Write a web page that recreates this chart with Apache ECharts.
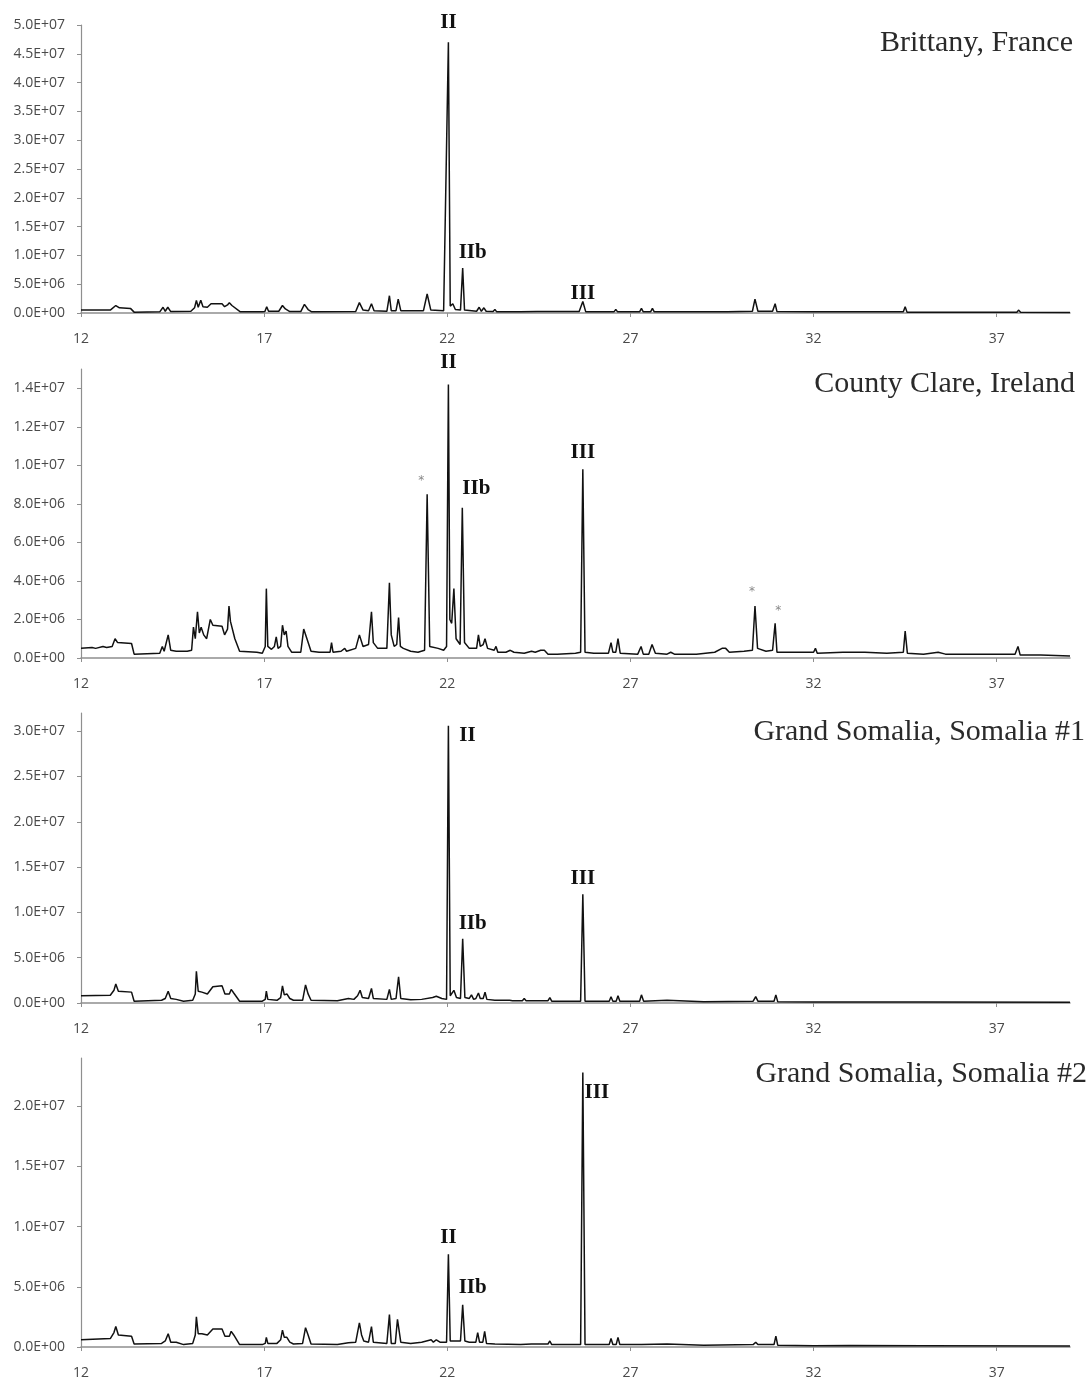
<!DOCTYPE html>
<html>
<head>
<meta charset="utf-8">
<script src="https://cdn.jsdelivr.net/npm/echarts@6/dist/echarts.min.js"></script>
<style>
  html, body { margin: 0; padding: 0; background: #fff; }
  #chart { width: 1091px; height: 1382px; }
</style>
</head>
<body>
<div id="chart"></div>
<script>
// Retention time (min) vs intensity (units of 1E+06 counts)
const xTicks = [12, 17, 22, 27, 32, 37];

const panelTitles = ['Brittany, France', 'County Clare, Ireland', 'Grand Somalia, Somalia #1', 'Grand Somalia, Somalia #2'];
const yMax = [50, 15, 32, 24];
const yTicks1 = [0, 5, 10, 15, 20, 25, 30, 35, 40, 45, 50];
const yTicks2 = [0, 2, 4, 6, 8, 10, 12, 14];
const yTicks3 = [0, 5, 10, 15, 20, 25, 30];
const yTicks4 = [0, 5, 10, 15, 20];

const brittany = [
  [12.0,0.5],[12.8,0.5],[12.95,1.3],[13.05,0.9],[13.35,0.8],[13.45,0.15],
  [14.15,0.2],[14.24,1.0],[14.3,0.3],[14.37,1.0],[14.45,0.25],
  [15.0,0.3],[15.1,0.9],[15.15,2.2],[15.2,1.0],[15.27,2.2],[15.33,1.1],[15.45,1.0],[15.55,1.6],[15.85,1.6],[15.92,1.1],[16.0,1.4],[16.05,1.8],[16.12,1.3],[16.35,0.2],
  [16.95,0.2],[17.02,0.25],[17.07,1.1],[17.12,0.3],[17.4,0.3],[17.5,1.3],[17.58,0.7],[17.7,0.25],
  [18.0,0.25],[18.1,1.5],[18.2,0.6],[18.3,0.2],
  [19.5,0.25],[19.6,1.8],[19.7,0.5],[19.85,0.4],[19.93,1.6],[20.0,0.4],[20.35,0.3],[20.42,3.0],[20.47,0.4],[20.6,0.4],[20.66,2.4],[20.73,0.4],
  [21.35,0.4],[21.45,3.3],[21.55,0.5],[21.9,0.4],[22.03,47.0],[22.08,1.2],[22.15,1.6],[22.22,0.6],[22.36,0.5],[22.42,7.8],[22.47,0.5],
  [22.8,0.3],[22.87,1.0],[22.93,0.3],[23.0,0.9],[23.06,0.3],[23.25,0.25],[23.3,0.6],[23.35,0.2],[24.0,0.2],[24.45,0.25],[24.5,0.35],[24.55,0.25],[25.6,0.25],[25.7,2.0],[25.78,0.2],
  [26.55,0.2],[26.6,0.6],[26.65,0.2],[27.25,0.2],[27.3,0.8],[27.35,0.2],[27.55,0.2],[27.6,0.8],[27.65,0.2],[28.05,0.2],[28.1,0.35],[28.15,0.2],
  [29.55,0.2],[29.6,0.4],[29.65,0.2],[30.33,0.3],[30.4,2.4],[30.48,0.3],[30.88,0.3],[30.95,1.6],[31.0,0.25],[32.0,0.2],
  [34.45,0.2],[34.5,1.1],[34.55,0.15],[36.35,0.15],[36.4,0.4],[36.45,0.15],[37.55,0.15],[37.6,0.5],[37.65,0.12],[39.0,0.1]
];

const clare = [
  [12.0,0.5],[12.3,0.55],[12.35,0.6],[12.4,0.5],[12.6,0.6],[12.7,0.55],[12.85,0.6],[12.93,1.0],[13.0,0.8],[13.38,0.75],[13.45,0.2],
  [14.15,0.25],[14.22,0.6],[14.27,0.35],[14.38,1.2],[14.45,0.4],[14.6,0.35],[14.9,0.35],[15.02,0.4],[15.07,1.6],[15.12,1.0],[15.18,2.4],[15.23,1.3],[15.28,1.6],[15.35,1.2],[15.43,1.0],[15.53,2.0],[15.6,1.7],[15.85,1.65],[15.92,1.2],[16.0,1.5],[16.04,2.7],[16.08,1.9],[16.13,2.0],[16.2,1.0],[16.33,0.35],
  [16.8,0.3],[16.95,0.25],[17.03,0.6],[17.06,3.6],[17.1,0.6],[17.2,0.45],[17.28,0.6],[17.33,1.1],[17.38,0.5],[17.45,0.6],[17.5,1.7],[17.55,1.2],[17.6,1.4],[17.65,0.6],[17.75,0.3],
  [18.0,0.3],[18.08,1.5],[18.15,1.1],[18.2,1.0],[18.28,0.35],[18.5,0.3],[18.8,0.3],[18.84,0.8],[18.88,0.3],[19.1,0.35],[19.2,0.5],[19.25,0.35],[19.5,0.5],[19.6,1.2],[19.7,0.6],[19.85,0.7],[19.93,2.4],[19.98,0.8],[20.1,0.5],[20.35,0.5],[20.42,3.9],[20.47,1.2],[20.55,0.6],[20.62,0.7],[20.67,2.1],[20.72,0.6],[20.8,0.5],[21.0,0.35],[21.2,0.3],
  [21.38,0.4],[21.45,8.5],[21.52,0.6],[21.75,0.5],[21.9,0.4],[21.98,0.6],[22.03,14.2],[22.07,2.0],[22.12,1.8],[22.18,3.6],[22.24,1.0],[22.35,0.7],[22.41,7.8],[22.47,0.8],[22.6,0.5],
  [22.8,0.5],[22.85,1.2],[22.9,0.6],[22.98,0.7],[23.03,1.0],[23.1,0.5],[23.28,0.4],[23.33,0.6],[23.38,0.3],[23.6,0.3],[23.72,0.4],[23.77,0.5],[23.82,0.3],[24.1,0.25],[24.3,0.35],[24.4,0.3],[24.55,0.4],[24.65,0.4],[24.75,0.2],[25.0,0.2],[25.5,0.25],
  [25.64,0.3],[25.7,9.8],[25.76,0.3],[26.0,0.25],[26.4,0.25],[26.47,0.8],[26.52,0.3],[26.6,0.3],[26.66,1.0],[26.72,0.25],[27.2,0.2],[27.29,0.6],[27.35,0.2],[27.5,0.2],[27.59,0.7],[27.68,0.25],[28.0,0.2],[28.1,0.3],[28.2,0.2],
  [28.8,0.2],[29.3,0.3],[29.5,0.5],[29.6,0.5],[29.7,0.3],[30.1,0.35],[30.33,0.4],[30.4,2.7],[30.47,0.5],[30.7,0.35],[30.88,0.4],[30.95,1.8],[31.0,0.3],[31.5,0.3],[32.0,0.3],[32.05,0.5],[32.1,0.25],[32.8,0.3],[33.4,0.3],[34.0,0.25],
  [34.45,0.3],[34.5,1.4],[34.56,0.25],[35.0,0.2],[35.4,0.3],[35.6,0.2],[36.7,0.2],[37.5,0.2],[37.58,0.6],[37.64,0.15],[38.2,0.15],[39.0,0.1]
];

const somalia1 = [
  [12.0,0.8],[12.8,0.85],[12.9,1.4],[12.95,2.1],[13.02,1.3],[13.38,1.2],[13.45,0.2],
  [14.2,0.3],[14.3,0.5],[14.38,1.3],[14.45,0.5],[14.6,0.4],[14.8,0.2],[15.05,0.3],[15.12,1.0],[15.15,3.5],[15.2,1.3],[15.3,1.2],[15.45,1.0],[15.6,1.8],[15.85,1.9],[15.93,1.0],[16.05,1.0],[16.1,1.5],[16.17,1.1],[16.33,0.2],
  [16.95,0.2],[17.03,0.4],[17.06,1.3],[17.1,0.4],[17.35,0.3],[17.45,0.6],[17.5,1.9],[17.55,0.9],[17.62,1.0],[17.7,0.5],[17.8,0.3],
  [18.05,0.3],[18.13,2.0],[18.2,1.0],[18.28,0.3],[19.0,0.25],[19.3,0.5],[19.45,0.4],[19.55,0.8],[19.62,1.4],[19.68,0.6],[19.85,0.5],[19.93,1.6],[19.98,0.5],[20.35,0.4],[20.42,1.5],[20.47,0.4],[20.6,0.5],[20.67,2.9],[20.73,0.5],
  [21.0,0.35],[21.3,0.4],[21.6,0.6],[21.7,0.75],[21.85,0.5],[21.98,0.4],[22.03,30.6],[22.08,0.8],[22.18,1.4],[22.25,0.6],[22.36,0.5],[22.42,7.1],[22.48,0.6],[22.6,0.5],[22.66,0.9],[22.72,0.4],[22.78,0.5],[22.85,1.1],[22.9,0.5],[22.98,0.5],[23.03,1.2],[23.08,0.4],
  [23.3,0.3],[23.7,0.3],[23.74,0.5],[23.78,0.25],[24.05,0.25],[24.1,0.5],[24.15,0.25],[24.75,0.25],[24.8,0.6],[24.85,0.2],[25.64,0.2],[25.7,12.0],[25.76,0.2],
  [26.42,0.2],[26.47,0.7],[26.52,0.2],[26.61,0.2],[26.66,0.8],[26.71,0.2],[27.25,0.2],[27.3,0.9],[27.36,0.2],[28.0,0.3],[29.0,0.15],
  [30.35,0.2],[30.42,0.7],[30.48,0.2],[30.92,0.2],[30.97,0.9],[31.02,0.15],[32.0,0.1],[33.0,0.12],[35.0,0.1],[39.0,0.08]
];

const somalia2 = [
  [12.0,0.6],[12.8,0.7],[12.9,1.2],[12.95,1.7],[13.02,1.0],[13.38,0.9],[13.45,0.25],
  [14.2,0.3],[14.3,0.5],[14.38,1.1],[14.45,0.4],[14.6,0.4],[14.8,0.2],[15.05,0.3],[15.12,1.0],[15.15,2.5],[15.2,1.1],[15.3,1.1],[15.45,1.0],[15.6,1.5],[15.85,1.5],[15.93,0.9],[16.05,0.9],[16.1,1.3],[16.17,1.0],[16.33,0.2],
  [16.95,0.2],[17.03,0.3],[17.06,0.8],[17.1,0.3],[17.35,0.3],[17.45,0.6],[17.5,1.4],[17.55,0.8],[17.62,0.8],[17.7,0.4],[17.8,0.25],
  [18.05,0.3],[18.13,1.6],[18.2,1.0],[18.28,0.25],[19.0,0.2],[19.3,0.35],[19.5,0.4],[19.6,2.0],[19.66,1.0],[19.72,0.5],[19.85,0.4],[19.93,1.7],[19.98,0.4],[20.35,0.3],[20.42,2.7],[20.47,0.3],[20.58,0.3],[20.64,2.3],[20.67,2.4],[20.73,0.4],
  [21.0,0.3],[21.3,0.4],[21.56,0.6],[21.62,0.4],[21.7,0.6],[21.8,0.4],[21.98,0.4],[22.03,7.7],[22.08,0.5],[22.2,0.5],[22.36,0.5],[22.42,3.5],[22.48,0.5],[22.6,0.4],[22.78,0.4],[22.83,1.2],[22.88,0.4],[22.97,0.4],[23.02,1.3],[23.07,0.3],
  [23.3,0.25],[24.0,0.2],[24.3,0.25],[24.75,0.25],[24.8,0.5],[24.85,0.2],[25.64,0.2],[25.7,22.8],[25.76,0.2],
  [26.42,0.2],[26.47,0.7],[26.52,0.2],[26.61,0.2],[26.66,0.8],[26.71,0.2],[27.3,0.2],[28.0,0.25],[29.0,0.15],
  [30.35,0.2],[30.42,0.4],[30.48,0.2],[30.92,0.2],[30.97,0.9],[31.02,0.15],[32.0,0.1],[33.0,0.12],[35.0,0.1],[39.0,0.08]
];

// Peak annotations: [text, retention time of the annotated peak]
const labelsBrittany = [['II', 22.03], ['IIb', 22.42], ['III', 25.7]];
const labelsClare = [['II', 22.03], ['IIb', 22.41], ['III', 25.7], ['*', 21.45], ['*', 30.4], ['*', 30.95]];
const labelsSomalia1 = [['II', 22.03], ['IIb', 22.42], ['III', 25.7]];
const labelsSomalia2 = [['II', 22.03], ['IIb', 22.42], ['III', 25.7]];

// ---- layout / style (not data) ----
const grids = [
  { top: 25, height: 288 },
  { top: 369, height: 289 },
  { top: 713, height: 290 },
  { top: 1058, height: 289 }
];
const titleTops = [28, 369, 717, 1059];
const titleRights = [18, 16, 6, 4];
const labelOffsets = [
  [[0, -20], [10, -15], [0, -8]],
  [[0, -22], [14, -19], [0, -17], [-6, -13], [-3, -14], [3, -12]],
  [[19, 10], [10, -15], [0, -16]],
  [[0, -17], [10, -17], [14, 20]]
];

const series = [brittany, clare, somalia1, somalia2];
const yTicks = [yTicks1, yTicks2, yTicks3, yTicks4];
const labels = [labelsBrittany, labelsClare, labelsSomalia1, labelsSomalia2];

function sci(vMillions) {
  const v = vMillions * 1e6;
  if (v === 0) return '0.0E+00';
  let e = Math.floor(Math.log10(v) + 1e-9);
  let m = (v / Math.pow(10, e)).toFixed(1);
  if (m === '10.0') { m = '1.0'; e += 1; }
  return m + 'E+' + String(e).padStart(2, '0');
}

const axisColor = '#8f8f8f';
const labelColor = '#4a4a4a';
const tickFont = '"Liberation Sans Narrow", "Open Sans", sans-serif';

const option = {
  animation: false,
  backgroundColor: '#fff',
  title: panelTitles.map((t, i) => ({
    text: t, right: titleRights[i], top: titleTops[i], padding: 0,
    textStyle: { fontFamily: 'Liberation Serif', fontSize: 30, fontWeight: 'normal', color: '#2a2a2a' }
  })),
  grid: grids.map(g => ({ left: 81, right: 21, top: g.top, height: g.height, containLabel: false })),
  xAxis: grids.map((g, i) => ({
    type: 'value', gridIndex: i, min: 12, max: 39,
    axisLine: { show: true, lineStyle: { color: axisColor, width: 1.5 } },
    axisTick: { show: true, customValues: xTicks, length: 4, lineStyle: { color: axisColor } },
    axisLabel: { customValues: xTicks, margin: 19, fontFamily: tickFont, fontSize: 14, color: labelColor },
    splitLine: { show: false }
  })),
  yAxis: grids.map((g, i) => ({
    type: 'value', gridIndex: i, min: 0, max: yMax[i],
    axisLine: { show: true, lineStyle: { color: axisColor, width: 1.2 } },
    axisTick: { show: true, customValues: yTicks[i], length: 4, lineStyle: { color: axisColor } },
    axisLabel: { customValues: yTicks[i], margin: 16, fontFamily: tickFont, fontSize: 14, color: labelColor, formatter: sci },
    splitLine: { show: false }
  })),
  series: series.map((data, i) => ({
    type: 'line', xAxisIndex: i, yAxisIndex: i, data: data,
    showSymbol: false, symbol: 'none', sampling: null, smooth: false,
    lineStyle: { color: '#111', width: 1.5 },
    z: 3,
    markPoint: {
      symbol: 'circle', symbolSize: 0, silent: true, animation: false,
      data: labels[i].map((lab, k) => {
        const pt = data.find(p => p[0] === lab[1]);
        const star = lab[0] === '*';
        return {
          coord: [pt[0], pt[1]],
          value: lab[0],
          label: {
            show: true, position: 'inside', formatter: lab[0],
            offset: labelOffsets[i][k],
            fontFamily: star ? 'DejaVu Sans' : 'Liberation Serif',
            fontWeight: star ? 'normal' : 'bold',
            fontSize: star ? 12 : 21,
            color: star ? '#888' : '#111'
          }
        };
      })
    }
  }))
};

const chart = echarts.init(document.getElementById('chart'), null, { renderer: 'canvas' });
chart.setOption(option);
</script>
</body>
</html>
